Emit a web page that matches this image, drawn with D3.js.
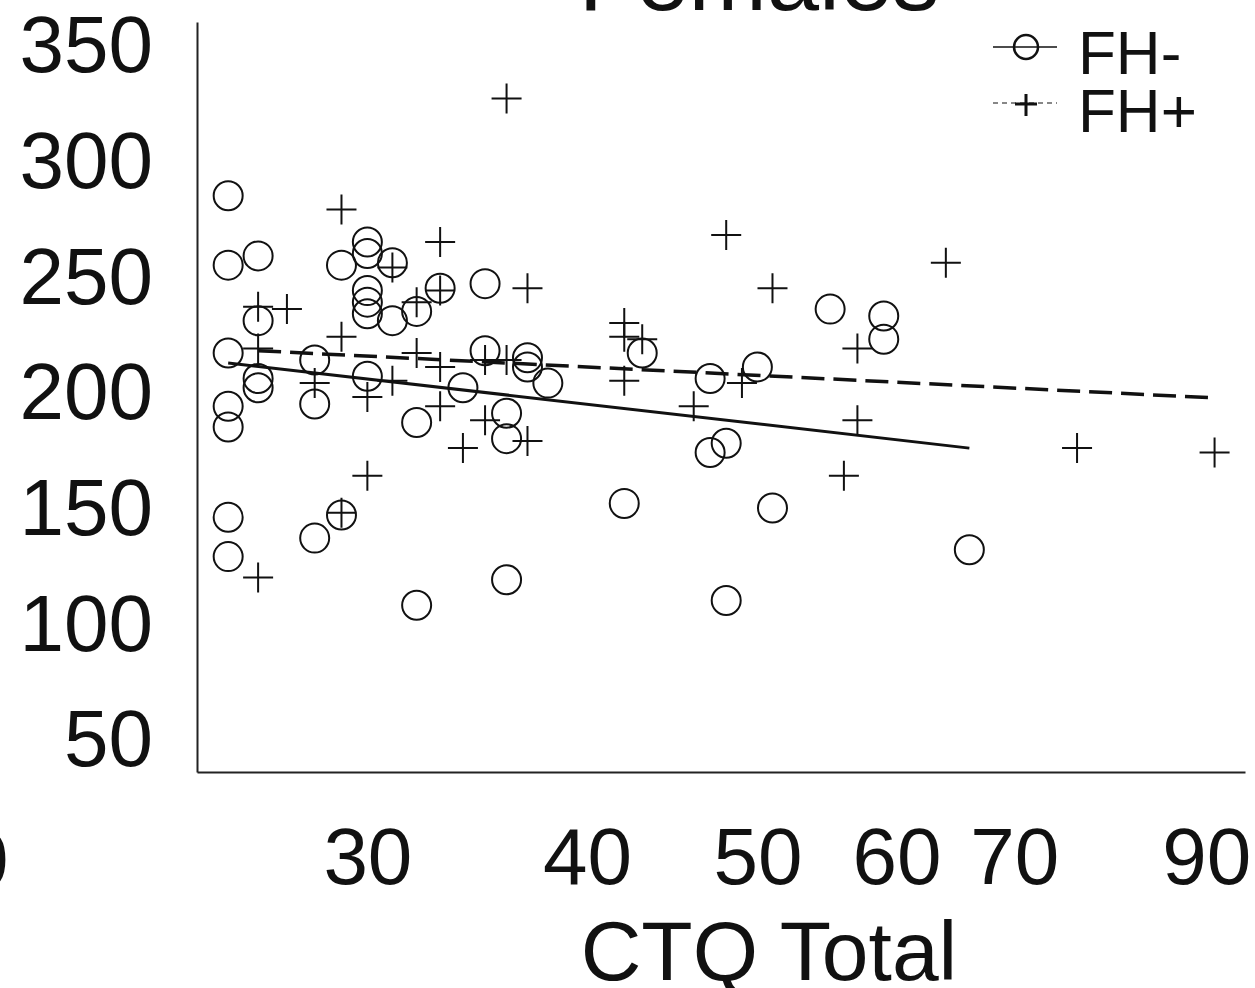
<!DOCTYPE html>
<html>
<head>
<meta charset="utf-8">
<script src="https://cdn.jsdelivr.net/npm/d3@7"></script>
<style>
  html, body { margin: 0; padding: 0; background: #fff; overflow: hidden; }
  svg { display: block; font-family: "Liberation Sans", Arial, Helvetica, sans-serif; }
</style>
</head>
<body>
<svg id="chart" width="1255" height="988"></svg>
<script>
// ---- data ----
const titleText = "Females";
const xLabel = "CTQ Total";
const xTicks = [30, 40, 50, 60, 70, 90];
const yTicks = [50, 100, 150, 200, 250, 300, 350];
const seriesNames = ["FH-", "FH+"];

const fhMinusCTQ = [25,25,25,25,25,25,25, 26,26,26,26, 28,28,28, 29,29, 30,30,30,30,30,30, 31,31, 32,32,32, 33, 34, 35,35, 36,36,36, 37,37, 38, 42, 43, 47,47, 48,48, 50, 51, 55, 59,59, 66];
const fhMinusY   = [284,254,216,193,184,145,128, 258,230,205,201, 213,194,136, 254,146, 264,259,243,238,233,206, 255,230, 234,186,107, 244, 201, 246,217, 190,179,118, 214,210, 203, 151, 216, 205,173, 177,109, 210, 149, 235, 232,222, 131];

const fhPlusCTQ = [26,26,26, 27, 28, 29,29,29, 30,30, 31,31, 32,32, 33,33,33,33, 34, 35,35, 36,36, 37,37, 42,42,42, 43, 46, 48, 49, 51, 56, 57,57, 64, 76, 91];
const fhPlusY   = [236,218,119, 235, 203, 278,223,147, 197,163, 253,204, 238,216, 264,243,210,193, 175, 187,213, 326,213, 244,178, 229,223,204, 222, 193, 267, 203, 244, 163, 218,187, 255, 175, 173];

// fitted lines (endpoints)
const fhMinusFitX = [25, 66];
const fhMinusFitY = [211.7, 174.9];
const fhPlusFitX = [26, 91];
const fhPlusFitY = [217.0, 196.6];

// ---- layout ----
const svg = d3.select("#chart");
const plotLeft = 197, plotRight = 1245, plotTop = 22, plotBottom = 772;
const ink = "#111";

const x = d3.scaleLog().domain([24, 94.7]).range([plotLeft, plotRight]);
const y = d3.scaleLinear().domain([34.9, 359.1]).range([plotBottom, plotTop]);

// title (partially cut off at the top)
svg.append("text")
  .attr("x", 759).attr("y", 10)
  .attr("text-anchor", "middle")
  .attr("font-size", 94)
  .attr("fill", ink)
  .text(titleText);

// fragment of neighbouring panel's tick label at far left
svg.append("text")
  .attr("x", -36).attr("y", 887)
  .attr("text-anchor", "middle")
  .attr("font-size", 80)
  .attr("fill", ink)
  .text("90");

// axes
const yAxis = d3.axisLeft(y).tickValues(yTicks).tickSize(0).tickSizeOuter(0).tickPadding(44).tickFormat(d3.format("d"));
const gy = svg.append("g").attr("transform", `translate(${plotLeft},0)`).call(yAxis);
gy.selectAll("text").attr("font-size", 80).attr("font-family", null).attr("fill", ink).attr("dy", "0.36em");
gy.select(".domain").attr("stroke", "#222").attr("stroke-width", 2);

const xAxis = d3.axisBottom(x).tickValues(xTicks).tickSize(0).tickSizeOuter(0).tickPadding(55).tickFormat(d3.format("d"));
const gx = svg.append("g").attr("transform", `translate(0,${plotBottom})`).call(xAxis);
gx.selectAll("text").attr("font-size", 80).attr("font-family", null).attr("fill", ink);
gx.select(".domain").attr("stroke", "#222").attr("stroke-width", 2);

// x label
svg.append("text")
  .attr("x", 769).attr("y", 980)
  .attr("text-anchor", "middle")
  .attr("font-size", 84)
  .attr("fill", ink)
  .text(xLabel);

// fitted lines
const line = d3.line().x(d => x(d[0])).y(d => y(d[1]));
svg.append("path")
  .datum(fhMinusFitX.map((v, i) => [v, fhMinusFitY[i]]))
  .attr("d", line).attr("fill", "none").attr("stroke", ink).attr("stroke-width", 3);
svg.append("path")
  .datum(fhPlusFitX.map((v, i) => [v, fhPlusFitY[i]]))
  .attr("d", line).attr("fill", "none").attr("stroke", ink).attr("stroke-width", 3.5)
  .attr("stroke-dasharray", "23,9");

// FH- circles
const minusPts = fhMinusCTQ.map((v, i) => ({ x: v, y: fhMinusY[i] }));
svg.append("g").selectAll("circle").data(minusPts).join("circle")
  .attr("cx", d => x(d.x)).attr("cy", d => y(d.y)).attr("r", 14.5)
  .attr("fill", "none").attr("stroke", ink).attr("stroke-width", 2);

// FH+ crosses
const plusPts = fhPlusCTQ.map((v, i) => ({ x: v, y: fhPlusY[i] }));
const arm = 15;
svg.append("g").selectAll("path").data(plusPts).join("path")
  .attr("d", d => {
    const cx = x(d.x), cy = y(d.y);
    return `M${cx - arm},${cy}H${cx + arm}M${cx},${cy - arm}V${cy + arm}`;
  })
  .attr("fill", "none").attr("stroke", ink).attr("stroke-width", 2);

// legend
const lg = svg.append("g");
lg.append("line").attr("x1", 993).attr("x2", 1057).attr("y1", 47).attr("y2", 47)
  .attr("stroke", ink).attr("stroke-width", 1.5);
lg.append("circle").attr("cx", 1026).attr("cy", 47).attr("r", 12)
  .attr("fill", "#fff").attr("stroke", ink).attr("stroke-width", 2.5);
lg.append("line").attr("x1", 1014).attr("x2", 1038).attr("y1", 47).attr("y2", 47)
  .attr("stroke", ink).attr("stroke-width", 1.5);
lg.append("text").attr("x", 1078).attr("y", 74).attr("font-size", 62).attr("fill", ink).text(seriesNames[0]);
lg.append("line").attr("x1", 993).attr("x2", 1057).attr("y1", 103).attr("y2", 103)
  .attr("stroke", ink).attr("stroke-width", 1.2).attr("stroke-dasharray", "5,4");
lg.append("path").attr("d", "M1015,104H1037M1026,94V116")
  .attr("stroke", ink).attr("stroke-width", 3).attr("fill", "none");
lg.append("text").attr("x", 1078).attr("y", 132).attr("font-size", 62).attr("fill", ink).text(seriesNames[1]);
</script>
</body>
</html>
